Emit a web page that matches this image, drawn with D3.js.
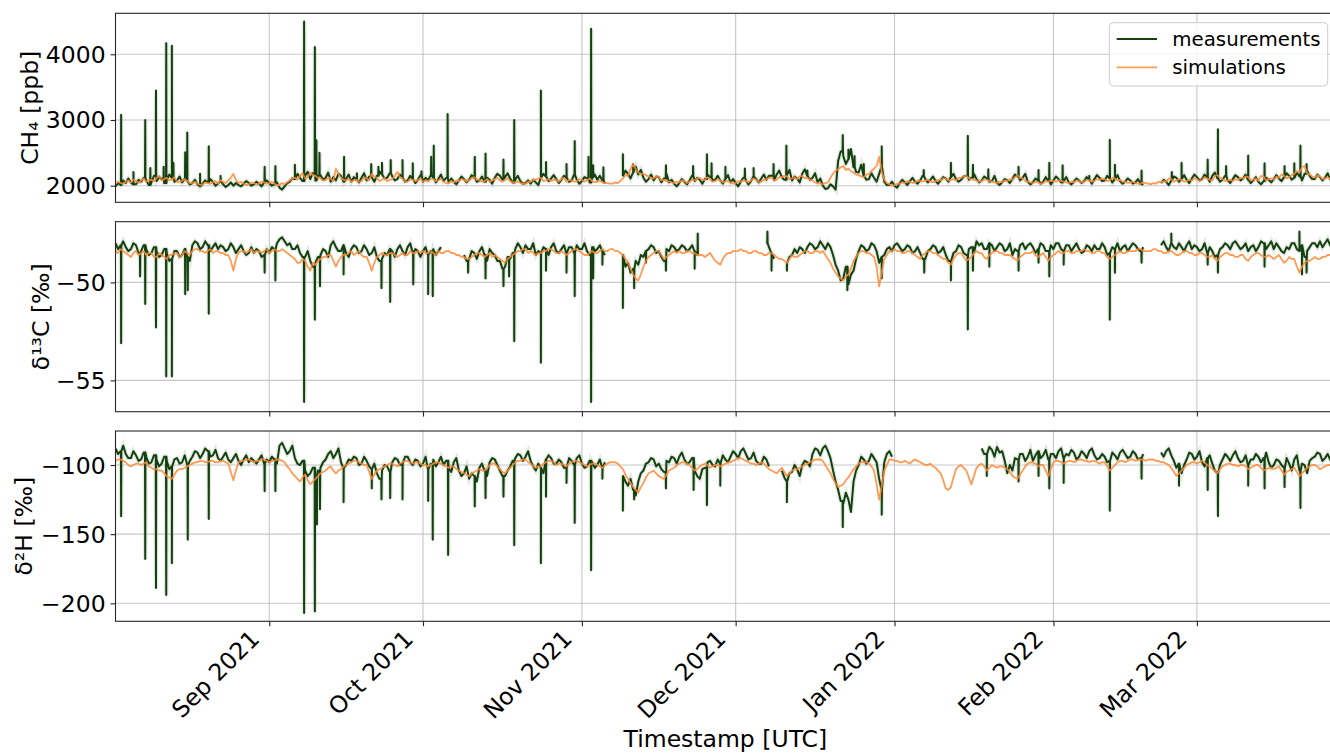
<!DOCTYPE html>
<html>
<head>
<meta charset="utf-8">
<script src="https://cdn.jsdelivr.net/npm/d3@7"></script>
<style>
  body { margin: 0; background: #fff; }
  svg { display: block; font-family: "DejaVu Sans", sans-serif; }
</style>
</head>
<body>
<div id="chart"></div>
<script>
// --- Time axis: day 0 = 2021-08-02 (UTC); readings at 00 and 12 UTC ---
const startDay = Date.UTC(2021, 7, 2);
const endDay = Date.UTC(2022, 2, 28);
const monthTicks = ["2021-09-01", "2021-10-01", "2021-11-01", "2021-12-01", "2022-01-01", "2022-02-01", "2022-03-01"];
const monthLabels = ["Sep 2021", "Oct 2021", "Nov 2021", "Dec 2021", "Jan 2022", "Feb 2022", "Mar 2022"];
const seriesNames = ["measurements", "simulations"];

// --- CH4 [ppb]: measured runs [firstDay, values] at 00 UTC and 12 UTC, short peaks [day, value] ---
const ch4Meas00 = [
  [0, [1990,2010,2040,2050,2020, 2060,2080,2050,2070,2100,2090,2120,2080,2050,2070,
       2040,2020,2030,2050,2060,2030,2020,2010,2000,2010,2030,2040,2020,2030,2050,
       2040,2020,1970,1990,2060,2100,2120,2150, 2100,2080,2160,2120,2060,2080,2150,2100,
       2060,2090,2120,2080,2130,2150,2170,2120,2140,2100,2120,2080,2100,2090,2060,
       2080,2120,2100,2070,2050,2060,2080,2100,2090,2120,2080,2060,2090,2120,2150,
       2130,2110,2090,2070,2040,2030,2050,2120,2140,2110,2100,2090,2120,2080,2090,2070,
       2110,2130,2090,2080]],
  [99, [2150,2180,2200,2170,2120,2100,
        2080,2130,2110,2050,2030,2040,2060,2080,2070,2090,2100,2130,2090,2080,2100,2050,2040,
        2060,2080,2070,2100,2110,2090,2150,2170,2130,2160,2080,2110,
        2180,2150,2120,2050,2000,1960,1990,
        2380,2450,2400,2280,2200,2150,2100,2120,2180,2060,
        2010,2000,2040,2050,2070,2060,2080,2100,2090,2070,2080,2110,2130,2100,2090,
        2150,2120,2100,2080,2110,2070,2040,2050,2080,2100,2140,2120,2060,2050,2080,2060,2070,
        2080,2100,2070,2050,2060,2080,2070,2090,2100,2120,2080,2110,2100,2070,2060,2080,2050,2030]],
  [204, [2040,2060,2080,2120,2100,2090,2110,2130,2100,2120,2150,2110,2090,2080,2100,2130,2110,
         2090,2080,2060,2070,2090,2100,2110,2130,2150,2120,2140,2180,2150,2100,2130,2120,2100]]
];
const ch4Meas12 = [
  [0, [2040,2080,2110,2020,2090, 2120,2010,2150,2130,2040,2170,2060,2140,2110,2020,
       2090,1990,2080,2100,2000,2070,1980,2050,2040,1990,2070,2000,2060,1990,2080,
       2000,2050,1940,2040,2110,2180,2070,2210, 2190,2150,2090,2200,2130,2180,2060,2170,
       2130,2050,2190,2140,2060,2220,2110,2190,2080,2170,2060,2150,2040,2160,2120,
       2160,2050,2170,2120,2110,2020,2140,2050,2160,2060,2140,2120,2030,2180,2090,
       2190,2050,2150,2030,2080,2090,2010,2180,2070,2160,2040,2150,2060,2170,2030,2130,
       2050,2170,2150,2030]],
  [99, [2230,2110,2290,2240,2060,2170,
        2140,2050,2180,2090,1990,2100,2020,2150,2120,2030,2170,2080,2150,2030,2160,2100,1990,
        2120,2020,2140,2050,2170,2150,2080,2230,2090,2240,2140,2050,
        2250,2090,2190,2110,1950,2020,1940,
        2520,2330,2560,2210,2320,2090,2190,2060,2290,2010,
        2060,1970,2090,2010,2120,2030,2150,2050,2140,2030,2130,2060,2180,2060,2140,
        2090,2180,2050,2140,2060,2150,2010,2100,2040,2170,2080,2180,2020,2110,2030,2130,2020,
        2140,2050,2130,2020,2110,2040,2130,2030,2160,2070,2150,2050,2160,2030,2110,2030,2100,2010]],
  [204, [2090,2010,2140,2060,2160,2040,2170,2080,2170,2060,2200,2060,2150,2040,2160,2080,2170,
         2040,2130,2020,2120,2050,2160,2070,2190,2090,2200,2080,2230,2100,2170,2080,2190,2050]]
];
const ch4Peaks = [
  [1.1,3080],[3.5,2210],[5.8,3000],[6.8,2270],[7.9,3450],[9.4,2290],[9.9,4170],[11.0,4130],[11.3,2350],
  [13.6,2510],[14.0,2810],[16.5,2180],[18.2,2600],[20.5,2150],[29.1,2290],[31.2,2300],[35.0,2320],
  [36.8,4500],[38.9,4110],[39.2,2690],[39.8,2500],[44.6,2440],[47.1,2190],[49.9,2330],[51.3,2290],
  [52.0,2350],[53.7,2390],[56.0,2390],[58.0,2340],[59.7,2220],[61.6,2440],[62.1,2610],[64.8,3090],
  [70.1,2440],[72.2,2490],[75.7,2400],[77.8,3000],[83.0,3450],[84.0,2360],[88.0,2330],[89.6,2680],
  [92.3,2440],[92.8,4390],[93.2,2310],[95.2,2280],[99.0,2480],[101.0,2330],[107.4,2310],[112.7,2300],
  [115.4,2480],[116.3,2340],[119.0,2290],[122.8,2260],[124.5,2270],[128.4,2330],[130.9,2610],
  [135.0,2230],[141.9,2770],[143.0,2550],[144.2,2450],[146.0,2330],[149.5,2600],[157.7,2240],
  [163.0,2350],[166.3,2760],[167.3,2320],[170.3,2250],[176.2,2290],[180.1,2240],[182.2,2350],
  [184.8,2310],[190.0,2150],[194.0,2700],[195.0,2320],[200.2,2230],[206.1,2210],[208.0,2350],
  [213.1,2400],[215.1,2860],[216.7,2300],[221.0,2460],[224.2,2340],[228.1,2300],[230.0,2340],
  [231.2,2610],[232.4,2330]
];
const ch4Sim00 = [
  2030,2040,2060,2050,2070,2080,2060,2090,2110,2080, 2120,2090,2060,2080,2070,2040,2030,2020,2040,2050,
  2030,2060,2080,2180,2040,2030,2020,2040,2030,2050, 2040,2030,2010,2020,2080,2120,2150,2110,2200,2150,
  2110,2080,2100,2260,2120,2080,2060,2090,2070,2110, 2180,2120,2090,2070,2100,2210,2110,2060,2090,2080,
  2060,2070,2100,2080,2060,2040,2050,2070,2090,2080, 2130,2090,2070,2060,2100,2080,2090,2070,2050,2040,
  2030,2060,2090,2120,2080,2070,2090,2100,2060,2080, 2070,2090,2080,2070,2060,2050,2040,2030,2040,2110,
  2150,2330,2200,2180,2140,2110,2130,2090,2060,2040, 2050,2070,2060,2080,2120,2090,2100,2070,2080,2060,
  2050,2040,2060,2070,2080,2090,2060,2100,2120,2090, 2130,2140,2110,2100,2150,2120,2080,2040,2020,2050,
  2180,2250,2300,2260,2200,2160,2130,2180,2260,2440, 2090,2020,2010,2030,2040,2060,2050,2070,2080,2060,
  2070,2080,2110,2090,2080,2120,2150,2100,2080,2070, 2090,2060,2040,2050,2070,2090,2160,2110,2060,2040,
  2050,2040,2060,2070,2080,2060,2040,2050,2070,2060, 2080,2070,2090,2100,2080,2110,2090,2060,2050,2040,
  2030,2040,2020,2030,2050,2060,2100,2080,2090,2070, 2080,2100,2090,2110,2080,2160,2100,2080,2070,2090,
  2110,2130,2090,2080,2140,2100,2090,2120,2150,2130, 2180,2200,2300,2170,2120,2140,2110,2100
];
const ch4Sim12 = [
  2060,2030,2080,2090,2040,2110,2080,2070,2150,2100, 2080,2130,2050,2100,2040,2060,2010,2050,2030,2070,
  2080,2040,2120,2090,2060,2010,2050,2020,2060,2030, 2060,2010,2040,2050,2110,2090,2190,2130,2160,2120,
  2080,2130,2070,2180,2090,2110,2080,2060,2120,2080, 2140,2070,2120,2090,2150,2130,2060,2100,2070,2110,
  2080,2100,2070,2110,2040,2070,2080,2100,2060,2120, 2090,2060,2100,2080,2120,2060,2110,2050,2070,2030,
  2060,2090,2110,2070,2100,2090,2060,2120,2090,2060, 2100,2060,2110,2050,2080,2040,2030,2050,2070,2160,
  2260,2250,2180,2160,2120,2140,2080,2070,2050,2060, 2080,2040,2090,2110,2080,2130,2060,2100,2050,2070,
  2030,2070,2080,2050,2110,2060,2090,2120,2080,2130, 2150,2100,2130,2140,2110,2090,2050,2030,2040,2120,
  2230,2280,2240,2220,2170,2140,2170,2220,2300,2210, 2040,2000,2030,2050,2070,2040,2080,2060,2090,2050,
  2090,2110,2080,2100,2120,2140,2110,2090,2060,2100, 2070,2050,2060,2080,2100,2130,2120,2070,2050,2060,
  2030,2070,2080,2060,2070,2050,2060,2080,2050,2090, 2060,2100,2110,2070,2120,2080,2060,2040,2060,2030,
  2050,2030,2040,2060,2070,2110,2060,2100,2060,2090, 2110,2070,2130,2090,2150,2120,2070,2090,2100,2120,
  2140,2080,2110,2150,2080,2110,2140,2170,2110,2160, 2220,2280,2190,2140,2160,2100,2130,2090
];

// --- δ13C [‰] ---
const d13cMeas00 = [
  [0, [-48.0,-48.1,-48.2,-48.3,-48.1,-48.4,-48.3,-48.5,-48.4,-48.6,-48.5,-48.8,-48.4,-48.6,-48.7,
       -48.1,-48.0,-48.2,-48.1,-48.2,-48.3,-48.2,-48.3,-48.2,-48.3,-48.4,-48.5,-48.5,-48.4,-48.6,
       -48.5,-48.3,-47.8,-47.9,-48.0,-48.3,-48.5,-48.7,-48.9,-49.0,-48.6,-48.4,-48.1,-48.2,-48.4,-48.5,
       -48.3,-48.2,-48.4,-48.3,-48.5,-48.7,-48.8,-48.6,-48.4,-48.3,-48.4,-48.2,-48.5,-48.4,-48.4,-48.6,-48.3,-48.4]],
  [68, [-48.6,-48.8,-48.5,-48.4,-48.6,-48.3,-48.6,-48.9,-49.2,-48.8,-48.3,-48.2,-48.1,-48.3,-48.6,-48.5,
        -48.3,-48.2,-48.4,-48.3,-48.5,-48.2,-48.1,-48.3,-48.4,-48.2,-48.3,-48.4]],
  [99, [-48.6,-49.0,-49.3,-49.1,-48.7,-48.3,-48.2,-48.4,-48.9,-48.4,-48.2,-48.3,-48.2,-48.3,-48.4]],
  [127, [-48.0,-48.5]],
  [131, [-49.0,-48.6,-48.5,-48.3,-48.2,-48.1,-48.2,-48.1,-48.0,-48.6,
         -49.4,-49.8,-50.1,-49.4,-48.4,-48.2,-48.3,-48.1, -49.0,-48.6,
         -48.2,-48.1,-48.2,-48.3,-48.2,-48.4,-48.5,-48.8,-48.3,-48.2,-48.4,-48.6,-48.9,-48.4,-48.2,
         -48.6,-48.2,-47.9,-48.0,-48.3,-48.1,-48.2,-48.1,-48.3,-48.6,-48.4,-48.0,-48.1,-48.2,-48.3,-48.1,-48.4,
         -48.3,-48.0,-48.4,-48.1,-48.2,-48.3,-48.4,-48.2,-48.1,-48.3,-48.2,-48.5,-48.3,-48.4,-48.1,-48.2,-48.1,-48.4]],
  [204, [-48.1,-48.2,-48.0,-48.3,-48.2,-48.1,-48.3,-48.2,-48.3,-48.5,-48.4,-48.6,-48.2,-48.1,-48.0,-48.1,-48.2,
         -48.4,-48.1,-48.2,-48.0,-48.1,-48.3,-48.2,-48.5,-48.3,-48.0,-48.4,-48.7,-48.2,-48.0,-47.9,-48.0,-48.1]]
];
const d13cMeas12 = [
  [0, [-48.3,-47.9,-48.4,-48.0,-48.5,-48.1,-48.6,-48.2,-48.7,-48.3,-48.9,-48.4,-48.7,-48.3,-48.9,
       -47.9,-48.3,-47.9,-48.4,-48.0,-48.1,-48.4,-48.0,-48.5,-48.1,-48.6,-48.2,-48.3,-48.7,-48.3,
       -48.2,-48.0,-47.7,-48.1,-48.3,-48.1,-48.7,-48.4,-49.2,-48.7,-48.3,-48.7,-47.9,-48.4,-48.1,-48.7,
       -48.1,-48.5,-48.1,-48.6,-48.2,-48.9,-48.5,-48.3,-48.7,-48.1,-48.6,-48.0,-48.3,-48.7,-48.2,-48.4,-48.6,-48.2]],
  [68, [-48.9,-48.4,-48.8,-48.2,-48.9,-48.5,-48.9,-49.3,-48.7,-48.5,-48.0,-48.5,-48.3,-48.0,-48.4,-48.2,
        -48.6,-48.0,-48.5,-48.1,-48.2,-48.5,-48.3,-48.0,-48.6,-48.4,-48.1,-48.6]],
  [99, [-49.2,-49.5,-48.9,-48.6,-48.4,-48.1,-48.5,-48.7,-48.3,-48.1,-48.4,-48.1,-48.4,-48.1,-48.6]],
  [127, [-48.2,-48.8]],
  [131, [-48.7,-48.3,-48.2,-48.5,-48.0,-48.3,-47.9,-48.3,-48.2,-49.1,
         -49.9,-49.2,-49.6,-48.8,-48.1,-48.4,-48.0,-48.4, -48.7,-48.3,
         -48.4,-48.0,-48.4,-48.1,-48.5,-48.2,-48.8,-48.4,-48.1,-48.5,-48.2,-48.9,-48.5,-48.1,-48.5,
         -48.3,-48.5,-48.1,-48.3,-48.0,-48.4,-48.0,-48.4,-48.0,-48.3,-48.1,-48.3,-48.0,-48.5,-48.0,-48.4,-48.1,
         -48.0,-48.3,-48.1,-48.4,-48.0,-48.5,-48.1,-48.4,-48.3,-48.0,-48.6,-48.2,-48.0,-48.2,-48.4,-48.0,-48.3,-48.2]],
  [204, [-47.9,-48.4,-48.2,-48.0,-48.4,-47.9,-48.1,-48.4,-48.0,-48.2,-48.7,-48.3,-48.0,-48.3,-47.9,-48.3,-48.0,
         -48.2,-48.4,-47.9,-48.3,-47.9,-48.0,-48.4,-48.2,-48.0,-48.3,-48.1,-48.4,-48.0,-48.2,-48.2,-47.8,-48.3]]
];
const d13cPeaks = [
  [1.1,-53.1],[4.8,-49.7],[5.8,-51.1],[7.9,-52.3],[9.9,-54.8],[11.0,-54.8],[13.6,-50.6],[14.1,-50.4],
  [18.2,-51.6],[29.1,-49.5],[31.2,-49.9],[36.8,-56.1],[38.9,-51.9],[39.9,-50.2],[44.5,-49.6],[51.9,-50.3],
  [53.6,-51.0],[58.1,-50.1],[61.0,-50.6],[61.9,-50.7],[68.8,-49.5],[72.2,-49.8],[75.7,-50.2],[76.8,-49.7],
  [77.8,-53.0],[83.0,-54.1],[84.0,-49.4],[88.0,-49.5],[89.6,-50.7],[92.8,-56.1],[93.2,-49.8],[95.0,-49.1],
  [99.0,-51.3],[101.2,-50.3],[103.5,-49.0],[107.4,-49.4],[113.0,-49.3],[113.6,-47.5],[127.2,-47.4],
  [128.0,-49.4],[131.0,-49.4],[142.8,-50.4],[149.5,-49.8],[157.8,-49.5],[163.0,-49.9],[166.3,-52.4],
  [167.3,-49.4],[170.5,-49.2],[176.2,-49.4],[180.1,-49.0],[182.2,-49.7],[185.0,-49.1],[194.0,-51.9],
  [195.0,-49.5],[200.2,-49.0],[206.0,-47.5],[213.1,-49.1],[215.1,-49.5],[224.2,-49.2],[231.0,-47.4],
  [231.5,-49.6],[232.4,-49.5]
];
const d13cSim00 = [
  -48.4,-48.3,-48.5,-48.7,-48.4,-48.5,-48.6,-48.5,-48.7,-48.6, -48.8,-48.6,-48.5,-48.6,-48.5,-48.4,-48.3,-48.4,-48.4,-48.5,
  -48.4,-48.5,-48.6,-49.4,-48.5,-48.4,-48.4,-48.5,-48.4,-48.4, -48.5,-48.3,-48.4,-48.4,-48.6,-48.8,-49.0,-48.9,-49.4,-49.1,
  -48.8,-48.7,-48.6,-49.2,-48.7,-48.6,-48.4,-48.5,-48.6,-48.7, -49.4,-48.7,-48.5,-48.6,-48.5,-48.7,-48.5,-48.6,-48.5,-48.4,
  -48.4,-48.5,-48.5,-48.4,-48.5,-48.4,-48.5,-48.6,-48.7,-48.8, -48.6,-48.5,-48.7,-48.5,-48.6,-48.8,-49.0,-48.7,-48.5,-48.4,
  -48.3,-48.4,-48.6,-48.5,-48.4,-48.3,-48.5,-48.4,-48.6,-48.4, -48.3,-48.5,-48.6,-48.4,-48.5,-48.3,-48.4,-48.3,-48.4,-48.6,
  -49.0,-49.6,-49.9,-49.2,-48.7,-48.5,-48.4,-48.8,-48.6,-48.4, -48.4,-48.5,-48.4,-48.5,-48.6,-48.7,-48.5,-48.9,-49.1,-48.6,
  -48.5,-48.4,-48.3,-48.4,-48.5,-48.4,-48.5,-48.6,-48.5,-48.7, -48.8,-49.0,-48.6,-48.7,-48.5,-48.4,-48.5,-48.4,-48.4,-48.8,
  -49.3,-49.7,-49.9,-49.6,-48.9,-48.5,-48.4,-48.5,-48.7,-50.2, -48.8,-48.4,-48.3,-48.4,-48.5,-48.4,-48.6,-48.8,-48.5,-48.4,
  -48.5,-48.7,-48.8,-49.1,-48.6,-48.5,-48.9,-48.7,-48.4,-48.5, -48.8,-48.5,-48.4,-48.5,-48.6,-48.7,-48.9,-48.6,-48.5,-48.4,
  -48.7,-48.5,-48.9,-48.6,-48.4,-48.5,-48.4,-48.5,-48.4,-48.3, -48.4,-48.5,-48.4,-48.5,-48.8,-48.6,-48.4,-48.5,-48.4,-48.4,
  -48.3,-48.4,-48.4,-48.3,-48.4,-48.5,-48.4,-48.6,-48.5,-48.4, -48.5,-48.6,-48.5,-48.7,-48.6,-48.9,-48.6,-48.5,-48.6,-48.7,
  -48.6,-48.9,-48.6,-48.5,-48.7,-48.6,-48.8,-48.6,-49.0,-48.7, -48.8,-49.5,-49.0,-48.9,-48.7,-48.8,-48.7,-48.6
];
const d13cSim12 = [
  -48.5,-48.4,-48.6,-48.5,-48.6,-48.4,-48.5,-48.7,-48.5,-48.7, -48.6,-48.5,-48.7,-48.4,-48.6,-48.3,-48.4,-48.5,-48.3,-48.4,
  -48.5,-48.6,-48.9,-48.8,-48.4,-48.5,-48.3,-48.4,-48.5,-48.3, -48.4,-48.4,-48.3,-48.5,-48.7,-49.0,-48.8,-49.2,-49.0,-48.9,
  -48.7,-48.6,-48.9,-48.9,-48.6,-48.5,-48.6,-48.4,-48.7,-49.0, -49.0,-48.6,-48.6,-48.5,-48.6,-48.6,-48.6,-48.4,-48.5,-48.5,
  -48.5,-48.4,-48.6,-48.5,-48.4,-48.5,-48.6,-48.7,-48.8,-48.7, -48.5,-48.6,-48.6,-48.7,-48.7,-48.9,-48.8,-48.6,-48.4,-48.3,
  -48.5,-48.5,-48.5,-48.4,-48.3,-48.4,-48.5,-48.5,-48.5,-48.3, -48.4,-48.6,-48.5,-48.5,-48.4,-48.4,-48.3,-48.4,-48.5,-48.8,
  -49.3,-49.8,-49.6,-48.9,-48.6,-48.4,-48.6,-48.7,-48.5,-48.5, -48.5,-48.4,-48.5,-48.6,-48.6,-48.6,-48.7,-49.0,-48.8,-48.5,
  -48.4,-48.4,-48.4,-48.5,-48.4,-48.5,-48.6,-48.5,-48.6,-48.8, -48.9,-48.8,-48.7,-48.6,-48.4,-48.5,-48.4,-48.5,-48.6,-49.0,
  -49.5,-49.8,-49.7,-49.3,-48.7,-48.4,-48.5,-48.6,-49.2,-49.5, -48.6,-48.4,-48.4,-48.5,-48.4,-48.5,-48.7,-48.6,-48.4,-48.5,
  -48.6,-48.8,-49.0,-48.8,-48.5,-48.7,-48.8,-48.5,-48.5,-48.7, -48.6,-48.4,-48.5,-48.6,-48.6,-48.8,-48.7,-48.5,-48.5,-48.6,
  -48.6,-48.7,-48.7,-48.5,-48.5,-48.4,-48.5,-48.4,-48.4,-48.4, -48.5,-48.4,-48.5,-48.7,-48.7,-48.5,-48.5,-48.4,-48.4,-48.3,
  -48.4,-48.4,-48.3,-48.4,-48.5,-48.4,-48.5,-48.6,-48.4,-48.5, -48.6,-48.5,-48.6,-48.7,-48.8,-48.7,-48.5,-48.6,-48.7,-48.6,
  -48.8,-48.7,-48.5,-48.6,-48.7,-48.7,-48.7,-48.8,-48.9,-48.8, -49.2,-49.2,-48.9,-48.8,-48.8,-48.7,-48.6,-48.7
];

// --- δ2H [‰] ---
const d2hMeas00 = [
  [0, [-88,-90,-92,-95,-93,-96,-94,-98,-96,-99,-97,-101,-95,-98,-100,
       -94,-91,-92,-90,-93,-95,-94,-96,-95,-97,-96,-98,-97,-96,-99,
       -98,-96,-86,-88,-90,-95,-100,-104,-106,-108,-102,-96,-90,-92,-98,-100,
       -97,-95,-99,-97,-103,-106,-104,-101,-98,-96,-99,-94,-100,-97,-99,-103,-96,-98,
       -100,-102,-98,-104,-106,-110,-108,-102,-104,-98,-96,-104,-108,-101,-95,-93,
       -94,-97,-104,-102,-96,-95,-99,-98,-102,-97,-95,-99,-101,-98,-100,-102]],
  [99, [-108,-115,-118,-112,-104,-98,-96,-99,-105,-98,-95,-94,-96,-98,-104,-110,-102,-97,-101,-99,-96,-94,-92,
        -90,-92,-95,-97,-99,-96]],
  [130, [-104,-112,-105,-103,-100,-98,-92,-89,-88,-90,-104,
         -118,-128,-125,-112,-100,-96,-97,-95,-110,-98,-90]],
  [169, [-88,-92,-89,-87,-90,-106,-104,-96,-92,-94,-97,-90,-93,-96,
         -92,-90,-95,-93,-91,-94,-92,-90,-93,-95,-94,-97,-93,-91,-92,-94,-92,-95]],
  [204, [-91,-90,-93,-102,-106,-96,-92,-94,-98,-95,-99,-106,-96,-94,-93,-95,-97,
         -100,-96,-94,-95,-98,-100,-97,-102,-99,-96,-104,-100,-97,-94,-92,-95,-96]]
];
const d2hMeas12 = [
  [0, [-92,-86,-95,-90,-97,-91,-99,-93,-101,-94,-103,-96,-99,-93,-97,
       -90,-95,-88,-94,-89,-97,-91,-98,-92,-100,-93,-95,-99,-93,-96,
       -94,-99,-84,-92,-86,-99,-97,-108,-102,-104,-98,-92,-95,-88,-102,-96,
       -94,-100,-94,-101,-99,-110,-100,-105,-95,-100,-94,-98,-96,-101,-94,-99,-101,-94,
       -97,-105,-95,-108,-101,-106,-112,-99,-108,-95,-100,-108,-104,-97,-92,-97,
       -90,-101,-99,-106,-93,-99,-96,-102,-95,-100,-93,-102,-97,-102,-96,-98]],
  [99, [-112,-110,-122,-106,-99,-95,-101,-103,-97,-94,-99,-91,-99,-95,-108,-103,-98,-100,-96,-93,-98,-90,-95,
        -88,-96,-91,-99,-94,-101]],
  [130, [-109,-106,-100,-108,-97,-101,-88,-93,-86,-95,-112,
         -126,-120,-134,-104,-94,-99,-92,-98,-118,-92,-94]],
  [169, [-92,-87,-94,-91,-97,-100,-95,-92,-97,-89,-93,-95,-89,-92,
         -95,-88,-92,-89,-96,-90,-95,-88,-96,-92,-98,-91,-96,-89,-95,-90,-96,-92]],
  [204, [-94,-88,-97,-99,-100,-91,-96,-90,-101,-93,-104,-100,-92,-97,-90,-98,-93,
         -96,-92,-98,-91,-102,-96,-100,-95,-104,-93,-99,-106,-95,-91,-97,-92,-98]]
];
const d2hPeaks = [
  [1.1,-137],[5.8,-168],[7.9,-189],[9.9,-194],[11.0,-171],[14.1,-154],[18.2,-139],[29.1,-119],[31.2,-119],
  [36.8,-207],[38.9,-206],[39.3,-143],[39.9,-132],[44.5,-127],[50.0,-117],[51.9,-125],[53.6,-124],[56.0,-125],
  [61.0,-126],[61.9,-154],[64.9,-165],[70.1,-130],[72.2,-124],[75.7,-123],[77.8,-158],[83.0,-171],[84.0,-123],
  [88.0,-113],[89.6,-142],[92.8,-176],[95.0,-110],[99.0,-133],[101.2,-125],[107.4,-117],[112.8,-118],
  [115.4,-129],[118.0,-115],[131.0,-127],[141.9,-145],[149.5,-136],[170.0,-108],[176.2,-112],[180.1,-108],
  [182.2,-117],[185.0,-113],[194.0,-133],[200.2,-110],[207.5,-115],[213.1,-118],[215.1,-137],[221.0,-115],
  [224.2,-117],[228.1,-116],[231.2,-131]
];
const d2hSim00 = [
  -97,-96,-98,-101,-99,-100,-98,-102,-103,-104, -108,-110,-104,-103,-101,-99,-98,-97,-98,-97,
  -98,-97,-99,-111,-98,-97,-96,-98,-97,-96, -98,-97,-96,-98,-103,-108,-112,-107,-114,-110,
  -106,-104,-101,-106,-103,-100,-98,-97,-99,-100, -110,-104,-102,-100,-99,-101,-98,-97,-99,-98,
  -100,-101,-99,-98,-100,-102,-101,-104,-106,-108, -105,-103,-104,-100,-99,-103,-106,-102,-98,-97,
  -96,-99,-102,-101,-98,-97,-100,-99,-101,-98, -97,-99,-101,-99,-100,-102,-99,-98,-99,-103,
  -110,-116,-120,-113,-106,-104,-108,-110,-104,-102, -99,-98,-100,-104,-101,-99,-102,-100,-101,-99,
  -98,-96,-95,-97,-99,-100,-98,-101,-104,-106, -102,-108,-104,-103,-101,-99,-97,-96,-97,-103,
  -110,-116,-114,-109,-103,-99,-98,-99,-104,-125, -104,-96,-97,-98,-97,-99,-96,-98,-100,-99,
  -102,-106,-117,-116,-103,-100,-104,-114,-102,-99, -104,-100,-102,-101,-103,-108,-110,-104,-99,-98,
  -101,-100,-108,-98,-97,-99,-97,-98,-96,-97, -98,-97,-99,-98,-104,-100,-97,-98,-96,-97,
  -96,-97,-96,-97,-98,-99,-102,-108,-104,-100, -98,-99,-97,-100,-103,-106,-101,-99,-100,-101,
  -100,-103,-101,-100,-104,-102,-103,-101,-107,-104, -102,-108,-104,-101,-100,-103,-101,-100
];
const d2hSim12 = [
  -96,-97,-100,-100,-99,-99,-101,-103,-104,-106, -109,-107,-103,-102,-100,-98,-97,-98,-97,-98,
  -97,-98,-105,-104,-97,-96,-97,-97,-96,-97, -97,-96,-97,-101,-106,-110,-109,-111,-112,-108,
  -105,-102,-104,-104,-101,-99,-97,-98,-100,-105, -107,-103,-101,-99,-100,-99,-97,-98,-98,-99,
  -100,-100,-98,-99,-101,-101,-103,-105,-107,-106, -104,-104,-102,-99,-101,-105,-104,-100,-97,-96,
  -98,-101,-101,-99,-97,-98,-99,-100,-99,-97, -98,-100,-100,-99,-101,-100,-98,-98,-101,-107,
  -113,-118,-116,-109,-105,-106,-109,-107,-103,-100, -98,-99,-102,-103,-100,-100,-101,-100,-100,-98,
  -97,-95,-96,-98,-99,-99,-99,-103,-105,-104, -105,-106,-103,-102,-100,-98,-96,-96,-100,-106,
  -113,-115,-111,-106,-101,-98,-98,-101,-114,-115, -100,-96,-97,-98,-98,-97,-97,-99,-100,-101,
  -104,-111,-118,-109,-101,-102,-109,-108,-100,-101, -102,-101,-101,-102,-105,-109,-107,-101,-98,-99,
  -100,-104,-103,-97,-98,-98,-97,-97,-96,-97, -97,-98,-98,-101,-102,-98,-97,-97,-96,-96,
  -96,-96,-96,-97,-98,-100,-105,-106,-102,-99, -98,-98,-98,-101,-104,-103,-100,-99,-100,-100,
  -101,-102,-100,-102,-103,-102,-102,-104,-105,-103, -105,-106,-102,-100,-101,-102,-100,-101
];

// y ticks per panel
const ch4Ticks = [2000, 3000, 4000];
const d13cTicks = [-50, -55];
const d2hTicks = [-100, -150, -200];

document.addEventListener("DOMContentLoaded", function() {
  const W = 1330, H = 753;
  const left = 115.5, right = 1335.3;
  const green = "#15400f", orange = "#ff8a36";

  const svg = d3.select("#chart").append("svg")
    .attr("width", W).attr("height", H);

  const x = d3.scaleUtc()
    .domain([new Date(startDay), new Date(endDay)])
    .range([left, right]);
  const dayToDate = d => new Date(startDay + d * 864e5);

  const runMap = runs => {
    const m = new Map();
    runs.forEach(([first, vals]) => vals.forEach((v, i) => m.set(first + i, v)));
    return m;
  };

  // 00/12 UTC runs + short peaks -> ordered samples (null where no measurement)
  function measuredSamples(runs00, runs12, peaks) {
    const a = runMap(runs00), b = runMap(runs12);
    const pts = [];
    for (let d = 0; d < 238; d++) {
      pts.push({ d, v: a.has(d) ? a.get(d) : null });
      pts.push({ d: d + 0.5, v: b.has(d) ? b.get(d) : null });
    }
    peaks.forEach(([d, v]) => {
      const day = Math.floor(d);
      const base = d - day < 0.5 ? a.get(day) : b.get(day);
      pts.push({ d: d - 1 / 24, v: base }, { d, v }, { d: d + 1 / 24, v: base });
    });
    return pts.sort((p, q) => p.d - q.d);
  }
  function simSamples(s00, s12) {
    const pts = [];
    s00.forEach((v, i) => {
      pts.push({ d: i, v });
      if (s12[i] != null) pts.push({ d: i + 0.5, v: s12[i] });
    });
    return pts;
  }

  const panels = [
    { top: 13.3, bottom: 202.3, domain: [1747, 4624], ticks: ch4Ticks, label: "CH₄ [ppb]", labelX: 38,
      meas: measuredSamples(ch4Meas00, ch4Meas12, ch4Peaks), sim: simSamples(ch4Sim00, ch4Sim12) },
    { top: 221.7, bottom: 411.7, domain: [-56.6, -46.9], ticks: d13cTicks, label: "δ¹³C [‰]", labelX: 49,
      meas: measuredSamples(d13cMeas00, d13cMeas12, d13cPeaks), sim: simSamples(d13cSim00, d13cSim12) },
    { top: 431, bottom: 621.3, domain: [-213, -75.4], ticks: d2hTicks, label: "δ²H [‰]", labelX: 32,
      meas: measuredSamples(d2hMeas00, d2hMeas12, d2hPeaks), sim: simSamples(d2hSim00, d2hSim12) }
  ];

  const monthDates = monthTicks.map(s => new Date(s + "T00:00:00Z"));
  const fmt = d3.format("d");

  panels.forEach((p, k) => {
    const y = d3.scaleLinear().domain(p.domain).range([p.bottom, p.top]);
    const g = svg.append("g");

    g.append("clipPath").attr("id", "clip" + k)
      .append("rect").attr("x", left).attr("y", p.top)
      .attr("width", right - left).attr("height", p.bottom - p.top);

    // grid
    g.append("g").selectAll("line").data(monthDates).join("line")
      .attr("x1", d => x(d)).attr("x2", d => x(d))
      .attr("y1", p.top).attr("y2", p.bottom)
      .attr("stroke", "#b0b0b0").attr("stroke-opacity", 0.7).attr("stroke-width", 1.1);
    g.append("g").selectAll("line").data(p.ticks).join("line")
      .attr("x1", left).attr("x2", right)
      .attr("y1", d => y(d)).attr("y2", d => y(d))
      .attr("stroke", "#b0b0b0").attr("stroke-opacity", 0.7).attr("stroke-width", 1.1);

    const plot = g.append("g").attr("clip-path", `url(#clip${k})`);

    const line = d3.line()
      .defined(d => d.v != null)
      .x(d => x(dayToDate(d.d)))
      .y(d => y(d.v));

    plot.append("path").datum(p.meas)
      .attr("d", line).attr("fill", "none")
      .attr("stroke", "#9fb89f").attr("stroke-opacity", 0.3).attr("stroke-width", 4.5);
    plot.append("path").datum(p.meas)
      .attr("d", line).attr("fill", "none")
      .attr("stroke", green).attr("stroke-width", 2).attr("stroke-linejoin", "round");
    plot.append("path").datum(p.sim)
      .attr("d", line).attr("fill", "none")
      .attr("stroke", orange).attr("stroke-opacity", 0.85).attr("stroke-width", 1.8)
      .attr("stroke-linejoin", "round");

    // spines
    g.append("rect").attr("x", left).attr("y", p.top)
      .attr("width", right - left).attr("height", p.bottom - p.top)
      .attr("fill", "none").attr("stroke", "#262626").attr("stroke-width", 1.1);

    // y axis
    const ya = g.append("g").attr("transform", `translate(${left},0)`)
      .call(d3.axisLeft(y).tickValues(p.ticks).tickSize(4.9).tickPadding(5).tickFormat(fmt));
    ya.select(".domain").remove();
    ya.selectAll("line").attr("stroke", "#262626").attr("stroke-width", 1.1);
    ya.selectAll("text").attr("font-size", "23.5px").attr("fill", "#000")
      .attr("font-family", "DejaVu Sans").attr("dy", "0.34em");

    // x ticks (labels only on the last panel)
    const xa = g.append("g").attr("transform", `translate(0,${p.bottom})`)
      .call(d3.axisBottom(x).tickValues(monthDates).tickSize(4.9).tickFormat(""));
    xa.select(".domain").remove();
    xa.selectAll("line").attr("stroke", "#262626").attr("stroke-width", 1.1);

    if (k === panels.length - 1) {
      g.append("g").selectAll("text").data(monthDates).join("text")
        .attr("transform", d => `translate(${x(d) - 8.5},${p.bottom + 19}) rotate(-45)`)
        .attr("text-anchor", "end")
        .attr("font-size", "23.5px").attr("fill", "#000")
        .text((d, i) => monthLabels[i]);
    }

    // y label
    g.append("text")
      .attr("transform", `translate(${p.labelX},${(p.top + p.bottom) / 2}) rotate(-90)`)
      .attr("text-anchor", "middle").attr("font-size", "23.5px").attr("fill", "#000")
      .text(p.label);
  });

  // x label
  svg.append("text")
    .attr("x", (left + right) / 2).attr("y", 747)
    .attr("text-anchor", "middle").attr("font-size", "23.5px").attr("fill", "#000")
    .text("Timestamp [UTC]");

  // legend
  const lg = svg.append("g");
  lg.append("rect").attr("x", 1109.3).attr("y", 22.7).attr("width", 218.4).attr("height", 63.3)
    .attr("rx", 4).attr("fill", "#fff").attr("fill-opacity", 0.8)
    .attr("stroke", "#cccccc").attr("stroke-width", 1);
  seriesNames.forEach((name, i) => {
    const ly = 39 + i * 28.3;
    lg.append("line").attr("x1", 1116.7).attr("x2", 1157).attr("y1", ly).attr("y2", ly)
      .attr("stroke", i === 0 ? green : orange)
      .attr("stroke-opacity", i === 0 ? 1 : 0.85)
      .attr("stroke-width", i === 0 ? 2 : 1.8);
    lg.append("text").attr("x", 1172.3).attr("y", ly).attr("dy", "0.35em")
      .attr("font-size", "19.8px").attr("fill", "#000").text(name);
  });
});
</script>
</body>
</html>
